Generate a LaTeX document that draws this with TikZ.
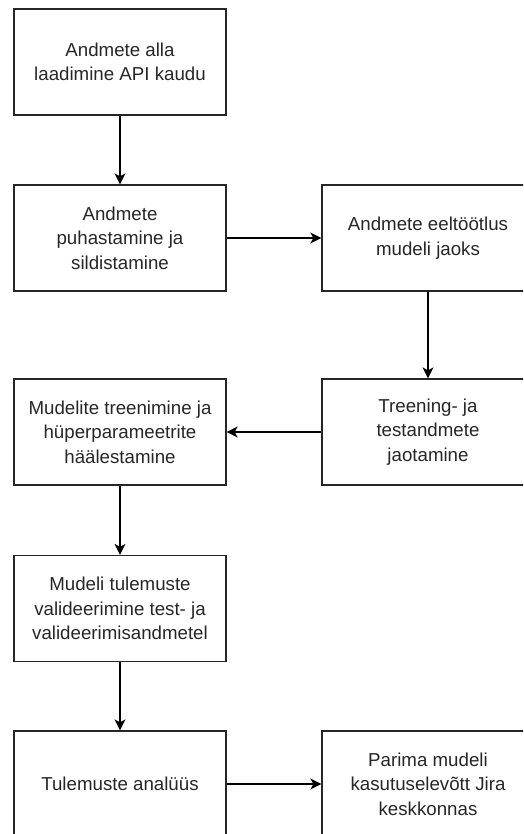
\documentclass[tikz,border=0pt]{standalone}
\usepackage{fontspec}
\setmainfont{Liberation Sans}
\usetikzlibrary{arrows.meta}
\begin{document}
\begin{tikzpicture}[x=1pt,y=-1pt,
  box/.style={draw=black!85,line width=1.3pt,minimum width=212pt,minimum height=106pt,inner sep=0pt,align=center,
    font=\fontsize{18.7pt}{24.5pt}\selectfont,text=black!85},
  conn/.style={draw=black,line width=1.3pt,-{Stealth[length=11pt,width=11pt,inset=3pt]}}]
\useasboundingbox (0,0) rectangle (523,834);
\clip (0,0) rectangle (523,834);
\node[box] (a) at (120,62) {Andmete alla\\laadimine API kaudu};
\node[box] (b) at (120,238) {Andmete\\puhastamine ja\\sildistamine};
\node[box] (c) at (428,238) {Andmete eeltöötlus\\mudeli jaoks};
\node[box] (d) at (428,432) {Treening- ja\\testandmete\\jaotamine};
\node[box] (e) at (120,432) {Mudelite treenimine ja\\hüperparameetrite\\häälestamine};
\node[box] (f) at (120,608.5) {Mudeli tulemuste\\valideerimine test- ja\\valideerimisandmetel};
\node[box] (g) at (120,784) {Tulemuste analüüs};
\node[box] (h) at (428,784) {Parima mudeli\\kasutuselevõtt Jira\\keskkonnas};
\draw[conn] (a) -- (b);
\draw[conn] (b) -- (c);
\draw[conn] (c) -- (d);
\draw[conn] (d) -- (e);
\draw[conn] (e) -- (f);
\draw[conn] (f) -- (g);
\draw[conn] (g) -- (h);
\end{tikzpicture}
\end{document}
